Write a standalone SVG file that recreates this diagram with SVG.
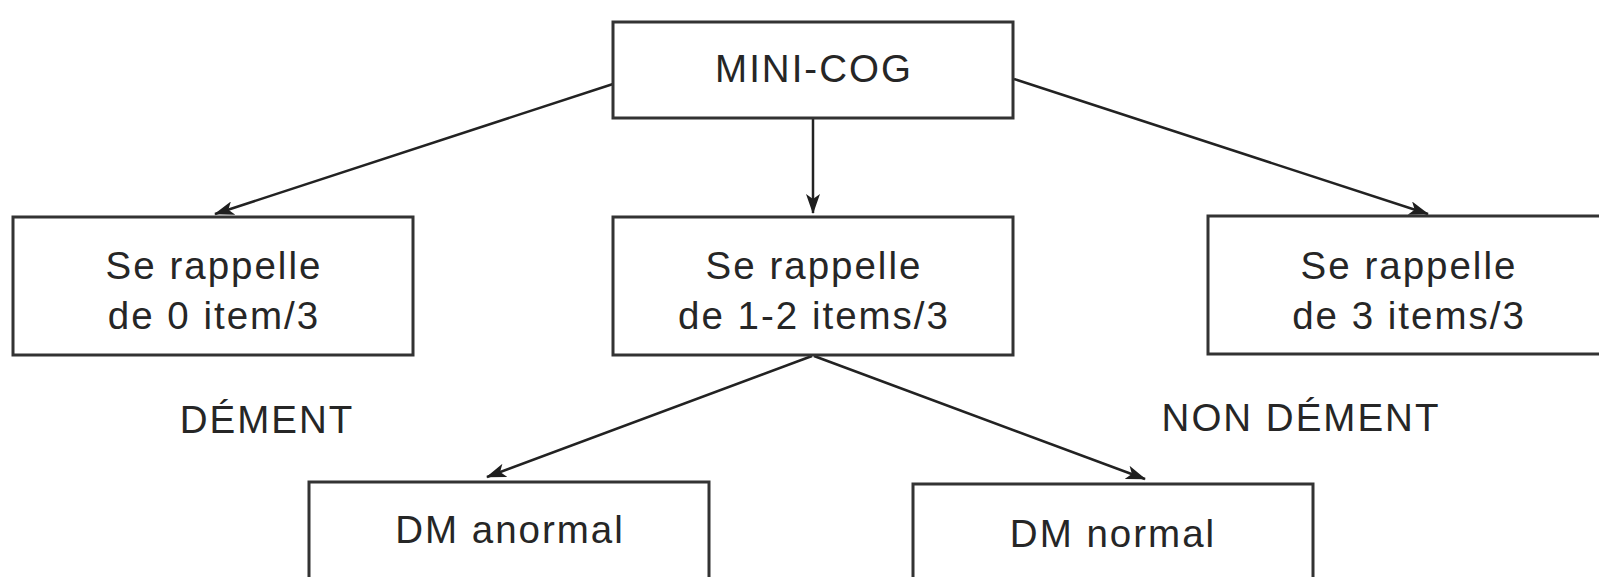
<svg xmlns="http://www.w3.org/2000/svg" width="1599" height="577" viewBox="0 0 1599 577">
<defs>
<style>
.box{fill:#fff;stroke:#333;stroke-width:3}
.t{font-family:"Liberation Sans",Arial,sans-serif;font-size:38.5px;letter-spacing:2px;fill:#262626;text-anchor:middle}
.c{stroke:#222;stroke-width:2.5;fill:none;marker-end:url(#ah)}
</style>
<marker id="ah" viewBox="0 0 20 14" refX="19" refY="7" markerWidth="20" markerHeight="14" markerUnits="userSpaceOnUse" orient="auto">
<path d="M0,0 L20,7 L0,14 L5,7 Z" fill="#1e1e1e"/>
</marker>
</defs>
<rect width="1599" height="577" fill="#fff"/>
<g id="connectors">
<line class="c" x1="613" y1="84" x2="215" y2="214"/>
<line class="c" x1="813" y1="118" x2="813" y2="213"/>
<line class="c" x1="1014" y1="79" x2="1428" y2="214"/>
<line class="c" x1="812" y1="356" x2="487" y2="477"/>
<line class="c" x1="814" y1="356" x2="1145" y2="479"/>
</g>
<g id="mini-cog">
<rect class="box" x="613" y="22" width="400" height="96"/>
<text class="t" x="814" y="82">MINI-COG</text>
</g>
<g id="recall-0">
<rect class="box" x="13" y="217" width="400" height="138"/>
<text class="t" x="214" y="279">Se rappelle</text>
<text class="t" x="214" y="329">de 0 item/3</text>
</g>
<g id="recall-1-2">
<rect class="box" x="613" y="217" width="400" height="138"/>
<text class="t" x="814" y="279">Se rappelle</text>
<text class="t" x="814" y="329">de 1-2 items/3</text>
</g>
<g id="recall-3">
<rect class="box" x="1208" y="216" width="420" height="138"/>
<text class="t" x="1409" y="279">Se rappelle</text>
<text class="t" x="1409" y="329">de 3 items/3</text>
</g>
<g id="dement">
<text class="t" x="267" y="433">DÉMENT</text>
</g>
<g id="non-dement">
<text class="t" x="1301" y="431">NON DÉMENT</text>
</g>
<g id="dm-anormal">
<rect class="box" x="309" y="482" width="400" height="120"/>
<text class="t" x="510" y="543">DM anormal</text>
</g>
<g id="dm-normal">
<rect class="box" x="913" y="484" width="400" height="120"/>
<text class="t" x="1113" y="547">DM normal</text>
</g>
</svg>
